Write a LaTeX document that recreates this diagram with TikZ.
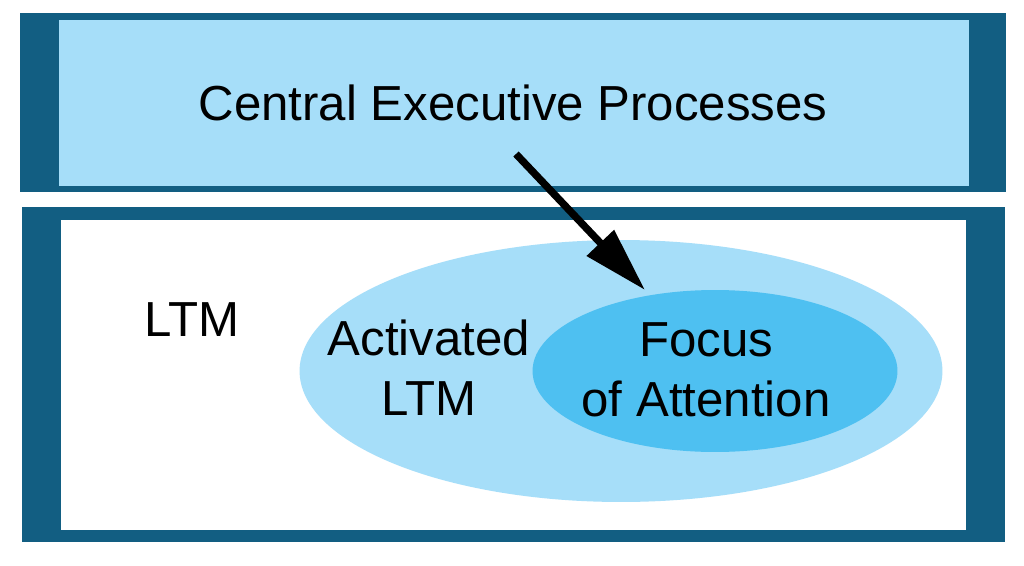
\documentclass[tikz,border=0pt]{standalone}
\usepackage{fontspec}
\setmainfont{Liberation Sans}
\usetikzlibrary{arrows.meta, shapes.geometric}
\definecolor{frameblue}{HTML}{125E82}
\definecolor{paleblue}{HTML}{A6DEF9}
\definecolor{focusblue}{HTML}{4EC0F1}

\tikzset{
  estilo modelo/.style={
      x=0.02cm, y=-0.02cm,
      texto/.style={font={\fontsize{28}{34}\selectfont}, align=center, inner sep=0pt},
      flecha/.style={-{Triangle[length=1.3cm, width=0.72cm]}, line width=4.2pt},
    },
}

\begin{document}
\begin{tikzpicture}[estilo modelo]
            \useasboundingbox (0,0) rectangle (1024,565);
            % marcos
            \fill[frameblue] (20,13) rectangle (1006,192);
            \fill[paleblue] (59,20) rectangle (969,186);
            \fill[frameblue] (22,207) rectangle (1005,542);
            \fill[white] (61,220) rectangle (966,530);

            % elipses
            \node[ellipse, fill=paleblue, minimum width=12.86cm, minimum height=5.24cm, inner sep=0pt] (activated) at (621,371) {};
            \node[ellipse, fill=focusblue, minimum width=7.3cm, minimum height=3.24cm, inner sep=0pt] (focus) at (715,371) {};

            \node[texto] (cep) at (513,103) {Central Executive Processes};
            \node[texto] (ltm) at (192,320) {LTM};
            \node[texto] (actltm) at (429,368) {Activated\\LTM};
            \node[texto] (foa) at (706,370) {Focus\\of Attention};

            \coordinate (inicio) at (516,154);
            \coordinate (punta) at (645,290);
            \draw[flecha] (inicio) -- (punta);
          \end{tikzpicture}
\end{document}
